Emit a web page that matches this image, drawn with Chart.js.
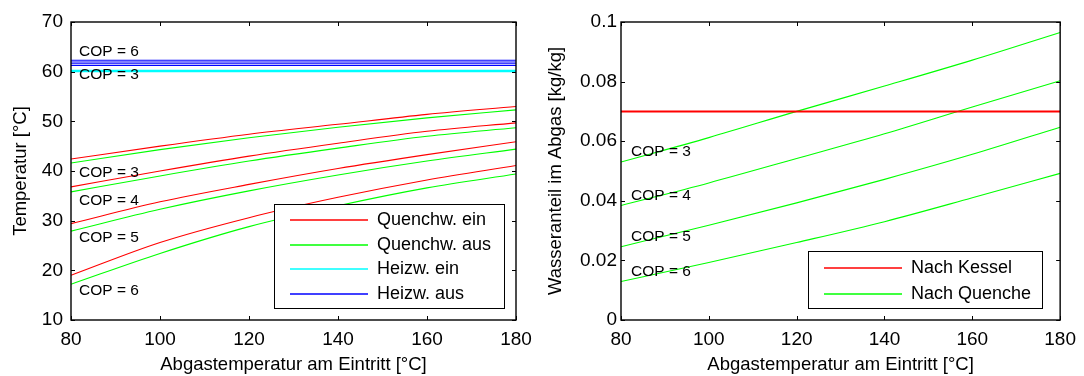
<!DOCTYPE html>
<html>
<head>
<meta charset="utf-8">
<script src="https://cdn.jsdelivr.net/npm/chart.js@4"></script>
<style>
  body { margin: 0; background: #fff; }
  .box { position: absolute; top: 0; height: 376px; }
</style>
</head>
<body>
<div class="box" style="left:0;width:540px"><canvas id="tempChart" width="540" height="376"></canvas></div>
<div class="box" style="left:540px;width:544px"><canvas id="waterChart" width="544" height="376"></canvas></div>
<script>
var FONT = "'Liberation Sans', Arial, sans-serif";

// data
var abgasTemp = [80, 100, 120, 140, 160, 180];
var copNames = ["COP = 3", "COP = 4", "COP = 5", "COP = 6"];

var quenchEin = [
  [42.4, 45.0, 47.4, 49.4, 51.4, 53.0],
  [36.8, 40.0, 43.0, 45.6, 48.0, 49.7],
  [29.4, 33.8, 37.3, 40.5, 43.3, 45.9],
  [19.0, 25.6, 30.6, 34.7, 38.2, 41.1]
];
var quenchAus = [
  [41.6, 44.3, 46.7, 48.8, 50.7, 52.3],
  [35.8, 39.0, 42.0, 44.6, 47.0, 48.7],
  [27.9, 32.3, 36.0, 39.2, 42.0, 44.4],
  [17.2, 23.4, 28.8, 33.0, 36.6, 39.4]
];
var heizEin = [60.0, 60.1, 60.2, 60.3];
var heizAus = [61.25, 61.6, 61.95, 62.3];

var wasserKessel = 0.07;
var wasserQuench = [
  [0.0530, 0.0612, 0.0700, 0.0785, 0.0872, 0.0965],
  [0.0384, 0.0460, 0.0542, 0.0625, 0.0715, 0.0803],
  [0.0246, 0.0318, 0.0393, 0.0472, 0.0556, 0.0647],
  [0.0129, 0.0193, 0.0260, 0.0330, 0.0410, 0.0492]
];

var xTicks = [80, 100, 120, 140, 160, 180];
var tempTicks = [10, 20, 30, 40, 50, 60, 70];
var wasserTicks = [0, 0.02, 0.04, 0.06, 0.08, 0.1];

// where the COP notes sit, in axis units
var tempNotes = [
  {text: "COP = 6", x: 81.8, y: 64.0},
  {text: "COP = 3", x: 81.8, y: 59.3},
  {text: "COP = 3", x: 81.8, y: 39.7},
  {text: "COP = 4", x: 81.8, y: 34.0},
  {text: "COP = 5", x: 81.8, y: 26.6},
  {text: "COP = 6", x: 81.8, y: 15.8}
];
var wasserNotes = [
  {text: "COP = 3", x: 82.3, y: 0.0565},
  {text: "COP = 4", x: 82.3, y: 0.0417},
  {text: "COP = 5", x: 82.3, y: 0.0280},
  {text: "COP = 6", x: 82.3, y: 0.0162}
];

function series(label, color, ys, width) {
  return {
    label: label,
    data: ys.map(function (v, i) { return {x: abgasTemp[i], y: v}; }),
    borderColor: color,
    backgroundColor: color,
    borderWidth: width || 1.1,
    pointRadius: 0,
    cubicInterpolationMode: 'monotone',
    fill: false
  };
}
function flat(label, color, v, width) {
  return series(label, color, abgasTemp.map(function () { return v; }), width);
}

var tempSets = [];
for (var i = 0; i < 4; i++) {
  tempSets.push(flat("Heizw. ein", "#00ffff", heizEin[i]));
  tempSets.push(flat("Heizw. aus", "#0000ff", heizAus[i]));
}
for (var i = 0; i < 4; i++) {
  tempSets.push(series("Quenchw. ein", "#ff0000", quenchEin[i]));
  tempSets.push(series("Quenchw. aus", "#00ff00", quenchAus[i]));
}

var wasserSets = [flat("Nach Kessel", "#ff0000", wasserKessel, 2)];
for (var i = 0; i < 4; i++) {
  wasserSets.push(series("Nach Quenche", "#00ff00", wasserQuench[i]));
}

function strokeLine(ctx, x1, y1, x2, y2) {
  ctx.beginPath(); ctx.moveTo(x1, y1); ctx.lineTo(x2, y2); ctx.stroke();
}

// MATLAB style box, inward ticks, notes and legend
var matlabLook = {
  id: 'matlabLook',
  afterDatasetsDraw: function (chart, args, opts) {
    var ctx = chart.ctx, a = chart.chartArea;
    var xs = chart.scales.x, ys = chart.scales.y;
    ctx.save();

    ctx.font = '15.5px ' + FONT;
    ctx.fillStyle = '#000';
    ctx.textAlign = 'left';
    ctx.textBaseline = 'middle';
    opts.notes.forEach(function (n) {
      ctx.fillText(n.text, xs.getPixelForValue(n.x), ys.getPixelForValue(n.y));
    });

    ctx.strokeStyle = '#000';
    ctx.lineWidth = 1;
    xs.ticks.forEach(function (t) {
      var px = Math.round(xs.getPixelForValue(t.value)) + 0.5;
      strokeLine(ctx, px, a.bottom, px, a.bottom - 4);
      strokeLine(ctx, px, a.top, px, a.top + 4);
    });
    ys.ticks.forEach(function (t) {
      var py = Math.round(ys.getPixelForValue(t.value)) + 0.5;
      strokeLine(ctx, a.left, py, a.left + 4, py);
      strokeLine(ctx, a.right, py, a.right - 4, py);
    });
    ctx.lineWidth = 1.4;
    ctx.strokeRect(a.left, a.top, a.right - a.left, a.bottom - a.top);

    // legend, one entry per label
    var seen = {}, items = [];
    chart.data.datasets.forEach(function (d) {
      if (!seen[d.label]) { seen[d.label] = 1; items.push(d); }
    });
    items.sort(function (p, q) { return opts.order.indexOf(p.label) - opts.order.indexOf(q.label); });
    var L = opts.legend;
    var bx = Math.round(a.right - L.right - L.width), by = Math.round(a.bottom - L.bottom - L.height);
    ctx.fillStyle = '#fff';
    ctx.fillRect(bx, by, L.width, L.height);
    ctx.lineWidth = 1;
    ctx.strokeStyle = '#000';
    ctx.strokeRect(bx + 0.5, by + 0.5, L.width, L.height);
    ctx.font = L.font + 'px ' + FONT;
    items.forEach(function (d, k) {
      var y = Math.round(by + L.first + k * L.step);
      ctx.strokeStyle = d.borderColor;
      ctx.lineWidth = 1.6;
      strokeLine(ctx, bx + 16, y, bx + 94, y);
      ctx.fillStyle = '#000';
      ctx.fillText(d.label, bx + 103, y);
    });
    ctx.restore();
  }
};

function buildConfig(sets, yTicks, yMin, yMax, yTitle, yWidth, titlePad, tickPad, rightPad, notes, order, legend) {
  return {
    type: 'line',
    data: {datasets: sets},
    options: {
      responsive: false,
      animation: false,
      layout: {padding: {top: 22, right: rightPad, bottom: 0, left: 0}},
      scales: {
        x: {
          type: 'linear', min: 80, max: 180,
          afterBuildTicks: function (s) { s.ticks = xTicks.map(function (v) { return {value: v}; }); },
          afterFit: function (s) { s.height = 56; },
          grid: {display: false, drawTicks: false},
          border: {display: false},
          ticks: {color: '#000', font: {family: FONT, size: 19}, padding: 8, maxRotation: 0},
          title: {display: true, text: 'Abgastemperatur am Eintritt [°C]', color: '#000',
                  font: {family: FONT, size: 18.5}, padding: {top: 0, bottom: 0}}
        },
        y: {
          type: 'linear', min: yMin, max: yMax,
          afterBuildTicks: function (s) { s.ticks = yTicks.map(function (v) { return {value: v}; }); },
          afterFit: function (s) { s.width = yWidth; },
          grid: {display: false, drawTicks: false},
          border: {display: false},
          ticks: {color: '#000', font: {family: FONT, size: 19}, padding: tickPad,
                  callback: function (v) { return String(Math.round(v * 100) / 100); }},
          title: {display: true, text: yTitle, color: '#000',
                  font: {family: FONT, size: 18.5}, padding: {top: titlePad, bottom: 0}}
        }
      },
      plugins: {
        legend: {display: false},
        tooltip: {enabled: false},
        matlabLook: {notes: notes, order: order, legend: legend}
      }
    },
    plugins: [matlabLook]
  };
}

var tempChart = new Chart(document.getElementById('tempChart'),
  buildConfig(tempSets, tempTicks, 10, 70, 'Temperatur [°C]', 71, 10, 8, 24, tempNotes,
    ["Quenchw. ein", "Quenchw. aus", "Heizw. ein", "Heizw. aus"],
    {width: 230, height: 104, right: 12, bottom: 12, first: 16.3, step: 24.5, font: 18}));

var waterChart = new Chart(document.getElementById('waterChart'),
  buildConfig(wasserSets, wasserTicks, 0, 0.1, 'Wasseranteil im Abgas [kg/kg]', 81, 5, 4, 22, wasserNotes,
    ["Nach Kessel", "Nach Quenche"],
    {width: 234, height: 57, right: 18, bottom: 12, first: 16.6, step: 26, font: 18}));
</script>
</body>
</html>
